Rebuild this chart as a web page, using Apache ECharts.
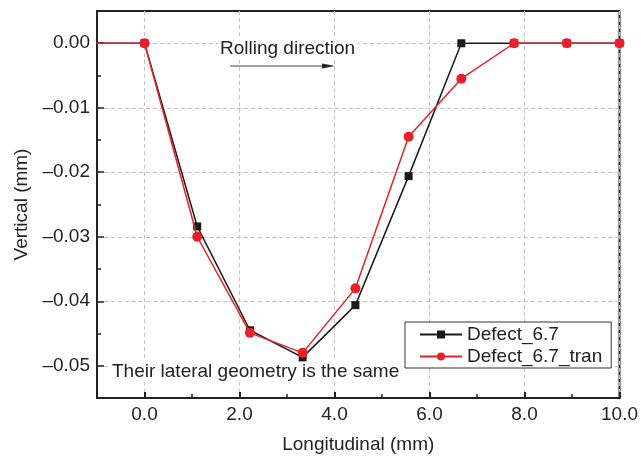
<!DOCTYPE html>
<html>
<head>
<meta charset="utf-8">
<script src="https://cdn.jsdelivr.net/npm/echarts@6/dist/echarts.min.js"></script>
<style>
  html, body { margin: 0; padding: 0; background: #fff; }
  #main { width: 641px; height: 461px; }
</style>
</head>
<body>
<div id="main"></div>
<script>
// 数据
var xs = [-1.11, 0, 1.11, 2.22, 3.33, 4.44, 5.56, 6.67, 7.78, 8.89, 10]
var defect = [0, 0, -0.0284, -0.0445, -0.0487, -0.0406, -0.0206, 0, 0, 0, 0]
var defectTran = [0, 0, -0.0300, -0.0449, -0.0480, -0.0380, -0.0145, -0.0055, 0, 0, 0]

var xTicks = [0, 2, 4, 6, 8, 10]
var xMinor = [1, 3, 5, 7, 9]
var yTicks = [0, -0.01, -0.02, -0.03, -0.04, -0.05]
var yMinor = [0.005, -0.005, -0.015, -0.025, -0.035, -0.045]

var font = 'Liberation Sans, Arial, sans-serif'

function pairs(ys) {
  return xs.map(function (x, i) { return [x, ys[i]] })
}
function yFmt(v) {
  return (v < 0 ? '\u2013' : '') + Math.abs(v).toFixed(2)
}

var myChart = echarts.init(document.getElementById('main'))

var option = {
  animation: false,
  grid: {
    left: 97, right: 21, top: 11, bottom: 63,
    show: true, borderColor: '#222', borderWidth: 2, backgroundColor: 'transparent'
  },
  xAxis: [{
    type: 'value', min: -1, max: 10,
    name: 'Longitudinal (mm)', nameLocation: 'middle', nameGap: 37,
    nameTextStyle: { fontFamily: font, fontSize: 19, color: '#222' },
    axisLine: { show: true, onZero: false, lineStyle: { color: '#222', width: 2 } },
    axisTick: { show: true, inside: true, length: 6, customValues: xTicks, lineStyle: { color: '#222', width: 2 } },
    axisLabel: { customValues: xTicks, margin: 7, fontFamily: font, fontSize: 19, color: '#222',
      formatter: function (v) { return v.toFixed(1) } },
    splitLine: { show: true, lineStyle: { color: '#c4c4c4', type: [4, 3], width: 1 } }
  }, {
    // 小刻度
    type: 'value', min: -1, max: 10, position: 'bottom',
    axisLine: { show: false, onZero: false },
    axisTick: { show: true, inside: true, length: 4, customValues: xMinor, lineStyle: { color: '#222', width: 1.5 } },
    axisLabel: { show: false },
    splitLine: { show: false }
  }],
  yAxis: [{
    type: 'value', min: -0.055, max: 0.005,
    name: 'Vertical (mm)', nameLocation: 'middle', nameGap: 66,
    nameTextStyle: { fontFamily: font, fontSize: 19, color: '#222' },
    axisLine: { show: true, onZero: false, lineStyle: { color: '#222', width: 2 } },
    axisTick: { show: true, inside: true, length: 7, customValues: yTicks, lineStyle: { color: '#222', width: 1.5 } },
    axisLabel: { customValues: yTicks, margin: 7, fontFamily: font, fontSize: 19, color: '#222', formatter: yFmt },
    splitLine: { show: true, lineStyle: { color: '#c4c4c4', type: [4, 3], width: 1 } }
  }, {
    type: 'value', min: -0.055, max: 0.005, position: 'left',
    axisLine: { show: false, onZero: false },
    axisTick: { show: true, inside: true, length: 4, customValues: yMinor, lineStyle: { color: '#222', width: 1.5 } },
    axisLabel: { show: false },
    splitLine: { show: false }
  }],
  legend: {
    orient: 'vertical', left: 405, top: 322,
    padding: [3, 9, 2, 14],
    itemWidth: 42, itemHeight: 10, itemGap: 3,
    borderColor: '#333', borderWidth: 1, backgroundColor: '#fff',
    textStyle: { fontFamily: font, fontSize: 19, color: '#222' },
    data: ['Defect_6.7', 'Defect_6.7_tran']
  },
  graphic: [
    { type: 'text', left: 218, top: 38, z: 10,
      style: { text: 'Rolling direction', font: '19px ' + font, fill: '#222', backgroundColor: '#fff', padding: [1, 2] } },
    { type: 'line', z: 10, shape: { x1: 230, y1: 66, x2: 326, y2: 66 }, style: { stroke: '#444', lineWidth: 1.2 } },
    { type: 'polygon', z: 10, shape: { points: [[322, 63.5], [335, 66], [322, 68.5]] }, style: { fill: '#222' } },
    { type: 'text', left: 110, top: 361, z: 1,
      style: { text: 'Their lateral geometry is the same', font: '19px ' + font, fill: '#222', backgroundColor: '#fff', padding: [1, 2] } }
  ],
  series: [{
    name: 'Defect_6.7',
    type: 'line',
    data: pairs(defect),
    symbol: 'rect', symbolSize: 8,
    lineStyle: { color: '#1a1a1a', width: 1.5 },
    itemStyle: { color: '#1a1a1a' },
    z: 2
  }, {
    name: 'Defect_6.7_tran',
    type: 'line',
    data: pairs(defectTran),
    symbol: 'circle', symbolSize: 10,
    lineStyle: { color: '#e8202a', width: 1.5 },
    itemStyle: { color: '#e8202a' },
    z: 3
  }]
}

myChart.setOption(option)
</script>
</body>
</html>
